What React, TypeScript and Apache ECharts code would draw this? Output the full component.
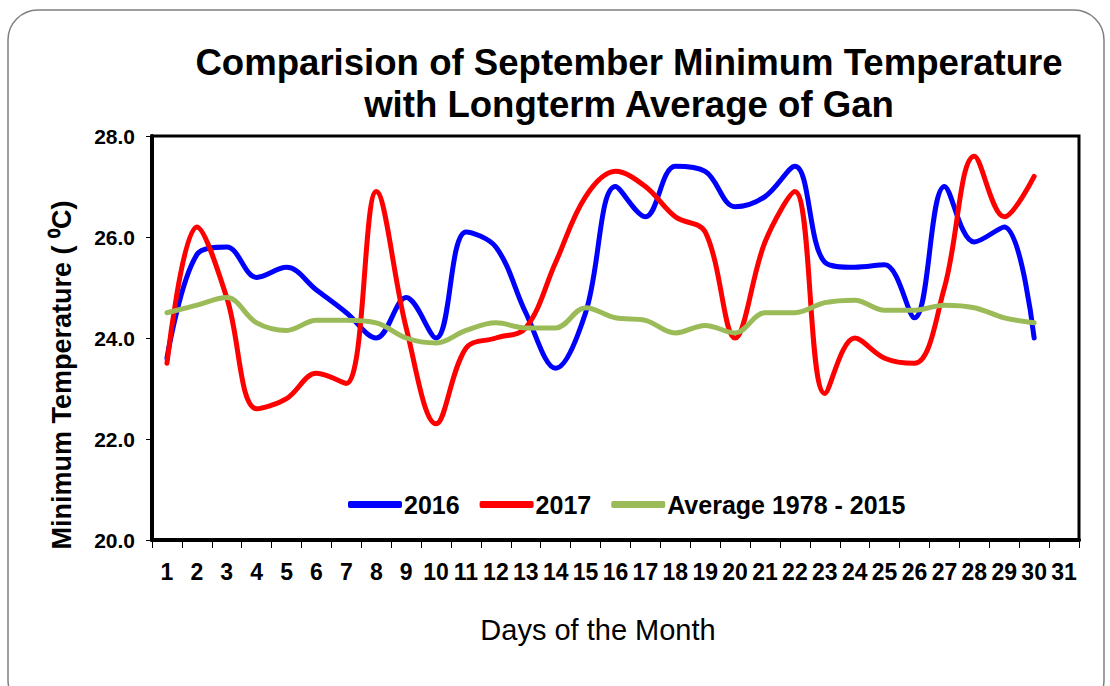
import React, { useEffect, useRef } from "react";
import * as echarts from "echarts";

const days = Array.from({ length: 31 }, (_, i) => String(i + 1));
const yTicks = [20, 22, 24, 26, 28];

const temp2016 = [23.6, 25.65, 25.8, 25.2, 25.4, 24.95, 24.5, 24.0, 24.8, 24.0, 26.1, 25.8, 24.5, 23.4, 24.5, 27.0, 26.4, 27.4, 27.3, 26.6, 26.8, 27.4, 25.5, 25.4, 25.45, 24.4, 27.0, 25.9, 26.2, 24.0];
const temp2017 = [23.5, 26.2, 24.8, 22.6, 22.8, 23.3, 23.1, 26.9, 24.2, 22.3, 23.8, 24.0, 24.2, 25.5, 26.8, 27.3, 27.0, 26.4, 26.1, 24.0, 25.9, 26.9, 22.9, 24.0, 23.6, 23.5, 25.0, 27.6, 26.4, 27.2];
const tempAvg = [24.5, 24.65, 24.8, 24.3, 24.15, 24.35, 24.35, 24.3, 24.0, 23.9, 24.15, 24.3, 24.2, 24.2, 24.6, 24.4, 24.35, 24.1, 24.25, 24.1, 24.5, 24.5, 24.7, 24.75, 24.55, 24.55, 24.65, 24.6, 24.4, 24.3];

const FONT = "'Liberation Sans', Arial, sans-serif";

export default function App() {
  const ref = useRef<HTMLDivElement>(null);
  useEffect(() => {
    document.body.style.margin = "0";
    if (!ref.current) return;
    const chart = echarts.init(ref.current, undefined, { renderer: "svg" });
    const mkLine = (name: string, data: number[], color: string) => ({
      name,
      type: "line",
      data,
      smooth: 0.36,
      symbol: "none",
      lineStyle: { color, width: 5, cap: "round", join: "round" },
      itemStyle: { color },
    });
    chart.setOption({
      animation: false,
      backgroundColor: "#fff",
      textStyle: { fontFamily: FONT },
      graphic: [
        {
          type: "rect",
          shape: { x: 8, y: 10, width: 1096, height: 700, r: 30 },
          style: { fill: "none", stroke: "#7f7f7f", lineWidth: 1.5 },
          silent: true,
          z: -10,
        },
        {
          type: "text",
          x: 629,
          y: 83,
          style: {
            text: "Comparision of September Minimum Temperature\nwith Longterm Average of Gan",
            font: `bold 36.6px ${FONT}`,
            fill: "#000",
            align: "center",
            verticalAlign: "middle",
            lineHeight: 42,
          },
        },
        {
          type: "text",
          x: 62,
          y: 375,
          rotation: Math.PI / 2,
          style: {
            text: "Minimum Temperature ( \u2070C)",
            font: `bold 27px ${FONT}`,
            fill: "#000",
            align: "center",
            verticalAlign: "middle",
          },
        },
        {
          type: "text",
          x: 598,
          y: 630,
          style: {
            text: "Days of the Month",
            font: `29px ${FONT}`,
            fill: "#000",
            align: "center",
            verticalAlign: "middle",
          },
        },
      ],
      legend: {
        left: 343,
        top: 487,
        itemWidth: 54,
        itemHeight: 7,
        itemGap: 20,
        icon: "roundRect",
        textStyle: { fontSize: 25, fontWeight: "bold", color: "#000", fontFamily: FONT, padding: [0, 0, 0, -3] },
        data: ["2016", "2017", "Average 1978 - 2015"],
      },
      grid: {
        left: 152,
        top: 136,
        right: 31,
        bottom: 146,
        show: true,
        borderColor: "#000",
        borderWidth: 3,
        backgroundColor: "transparent",
      },
      xAxis: {
        type: "category",
        data: days,
        boundaryGap: true,
        axisLine: { lineStyle: { color: "#000", width: 4 } },
        axisTick: { show: true, length: 8, lineStyle: { color: "#000", width: 1 } },
        axisLabel: { interval: 0, fontSize: 23, fontWeight: "bold", color: "#000", margin: 20, fontFamily: FONT },
      },
      yAxis: {
        type: "value",
        min: yTicks[0],
        max: yTicks[yTicks.length - 1],
        interval: 2,
        axisLine: { show: true, lineStyle: { color: "#000", width: 4 } },
        axisTick: { show: true, length: 6, lineStyle: { color: "#000", width: 1 } },
        splitLine: { show: false },
        axisLabel: {
          fontSize: 21,
          fontWeight: "bold",
          color: "#000",
          margin: 17,
          fontFamily: FONT,
          formatter: (v: number) => v.toFixed(1),
        },
      },
      series: [
        mkLine("2016", temp2016, "#0000FF"),
        mkLine("2017", temp2017, "#FF0000"),
        mkLine("Average 1978 - 2015", tempAvg, "#9BBB59"),
      ],
    });
    return () => chart.dispose();
  }, []);
  return <div ref={ref} style={{ width: 1110, height: 686 }} />;
}
